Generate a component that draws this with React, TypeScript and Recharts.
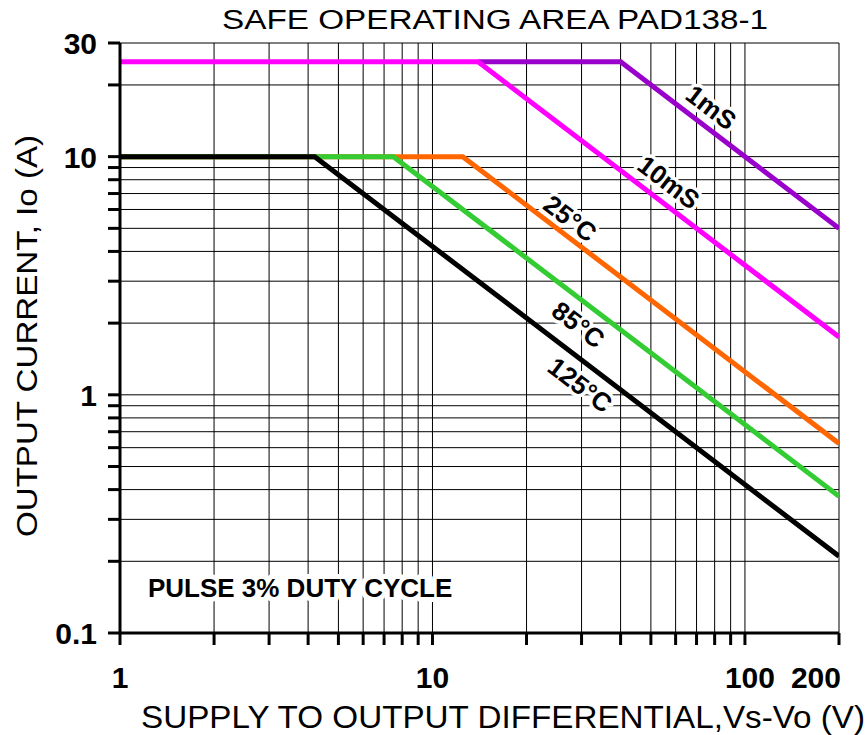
import { LineChart, Line, XAxis, YAxis, CartesianGrid, ReferenceDot } from 'recharts';

// Safe operating area curves, Vs-Vo (V) against Io (A)
const ms1Volts = [14, 40, 200];
const ms1Amps = [25, 25, 5];
const ms10Volts = [1, 14, 200];
const ms10Amps = [25, 25, 1.75];
const c25Volts = [1, 12.5, 200];
const c25Amps = [10, 10, 0.625];
const c85Volts = [1, 7.5, 200];
const c85Amps = [10, 10, 0.375];
const c125Volts = [1, 4.2, 200];
const c125Amps = [10, 10, 0.21];

const xTicks = [1, 2, 3, 4, 5, 6, 7, 8, 9, 10, 20, 30, 40, 50, 60, 70, 80, 90, 100, 200];
const yTicks = [0.1, 0.2, 0.3, 0.4, 0.5, 0.6, 0.7, 0.8, 0.9, 1, 2, 3, 4, 5, 6, 7, 8, 9, 10, 20, 30];
const xLabels = [1, 10, 100, 200];
const yLabels = [0.1, 1, 10, 30];

const curveNames = ['1mS', '10mS', '25°C', '85°C', '125°C'];
const curveLabelVolts = [78, 57, 27.6, 29.3, 29.7];
const curveLabelAmps = [16.1, 7.8, 5.5, 1.97, 1.1];

const noteText = 'PULSE 3% DUTY CYCLE';
const noteVolts = 3.77;
const noteAmps = 0.154;

const FONT = '"Liberation Sans", Arial, Helvetica, sans-serif';

const toPoints = (volts: number[], amps: number[]) =>
  volts.map((v, i) => ({ v, i: amps[i] }));

const series = [
  { name: '1mS', data: toPoints(ms1Volts, ms1Amps), color: '#9900cc' },
  { name: '10mS', data: toPoints(ms10Volts, ms10Amps), color: '#ff00ff' },
  { name: '25C', data: toPoints(c25Volts, c25Amps), color: '#ff6600' },
  { name: '85C', data: toPoints(c85Volts, c85Amps), color: '#33cc33' },
  { name: '125C', data: toPoints(c125Volts, c125Amps), color: '#000000' },
];

const XTick = (props: any) => {
  const { x, y, payload } = props;
  const v = payload.value;
  if (!xLabels.includes(v)) return <g />;
  const anchor = v === 200 ? 'end' : 'middle';
  const dx = v === 200 ? 2 : v === 100 ? 5 : 0;
  return (
    <text x={x + dx} y={y + 41} textAnchor={anchor} fontSize={30} fontWeight="bold" fontFamily={FONT} fill="#000">
      {v}
    </text>
  );
};

// labels sit left of the tick marks, right edge at x=97
const YTick = (props: any) => {
  const { y, payload } = props;
  const v = payload.value;
  if (!yLabels.includes(v)) return <g />;
  return (
    <text x={97} y={y + 11} textAnchor="end" fontSize={30} fontWeight="bold" fontFamily={FONT} fill="#000">
      {v}
    </text>
  );
};

const curveLabel = (text: string) => (p: any) => (
  <text
    x={p.cx}
    y={p.cy}
    dy="0.35em"
    textAnchor="middle"
    transform={`rotate(37.3, ${p.cx}, ${p.cy})`}
    fontSize={26}
    fontWeight="bold"
    fontFamily={FONT}
    fill="#000"
    stroke="#fff"
    strokeWidth={7}
    paintOrder="stroke"
    strokeLinejoin="round"
  >
    {text}
  </text>
);

const noteLabel = (p: any) => (
  <text
    x={p.cx}
    y={p.cy}
    dy="0.35em"
    textAnchor="middle"
    fontSize={26}
    fontWeight="bold"
    fontFamily={FONT}
    fill="#000"
    stroke="#fff"
    strokeWidth={10}
    paintOrder="stroke"
    strokeLinejoin="round"
  >
    {noteText}
  </text>
);

export default function App() {
  return (
    <div style={{ position: 'relative', width: 868, height: 735, background: '#fff' }}>
      <style>{'body{margin:0}'}</style>
      <LineChart width={868} height={735} margin={{ top: 43, right: 29, bottom: 0, left: 0 }}>
        <CartesianGrid stroke="#000" strokeWidth={1} />
        <XAxis
          dataKey="v"
          type="number"
          scale="log"
          domain={[1, 200]}
          ticks={xTicks}
          interval={0}
          allowDataOverflow
          height={102}
          tick={<XTick />}
          tickSize={12}
          tickLine={{ stroke: '#000', strokeWidth: 3 }}
          axisLine={{ stroke: '#000', strokeWidth: 3 }}
        />
        <YAxis
          type="number"
          scale="log"
          domain={[0.1, 30]}
          ticks={yTicks}
          interval={0}
          allowDataOverflow
          width={120}
          tick={<YTick />}
          tickSize={12}
          tickLine={{ stroke: '#000', strokeWidth: 3 }}
          axisLine={{ stroke: '#000', strokeWidth: 3 }}
        />
        {series.map((s) => (
          <Line
            key={s.name}
            data={s.data}
            dataKey="i"
            type="linear"
            stroke={s.color}
            strokeWidth={5}
            dot={false}
            activeDot={false}
            isAnimationActive={false}
          />
        ))}
        {curveNames.map((n, k) => (
          <ReferenceDot key={n} x={curveLabelVolts[k]} y={curveLabelAmps[k]} shape={curveLabel(n)} />
        ))}
        <ReferenceDot x={noteVolts} y={noteAmps} shape={noteLabel} />
      </LineChart>
      <svg width={868} height={735} style={{ position: 'absolute', left: 0, top: 0, pointerEvents: 'none' }}>
        <text x={222} y={29} fontSize={27} fontFamily={FONT} fill="#000" textLength={546} lengthAdjust="spacingAndGlyphs">
          SAFE OPERATING AREA PAD138-1
        </text>
        <text x={141} y={728} fontSize={32} fontFamily={FONT} fill="#000" textLength={724} lengthAdjust="spacingAndGlyphs">
          SUPPLY TO OUTPUT DIFFERENTIAL,Vs-Vo (V)
        </text>
        <text
          x={37}
          y={336}
          transform="rotate(-90, 37, 336)"
          textAnchor="middle"
          fontSize={29}
          fontFamily={FONT}
          fill="#000"
          textLength={402}
          lengthAdjust="spacingAndGlyphs"
        >
          OUTPUT CURRENT, Io (A)
        </text>
      </svg>
    </div>
  );
}
